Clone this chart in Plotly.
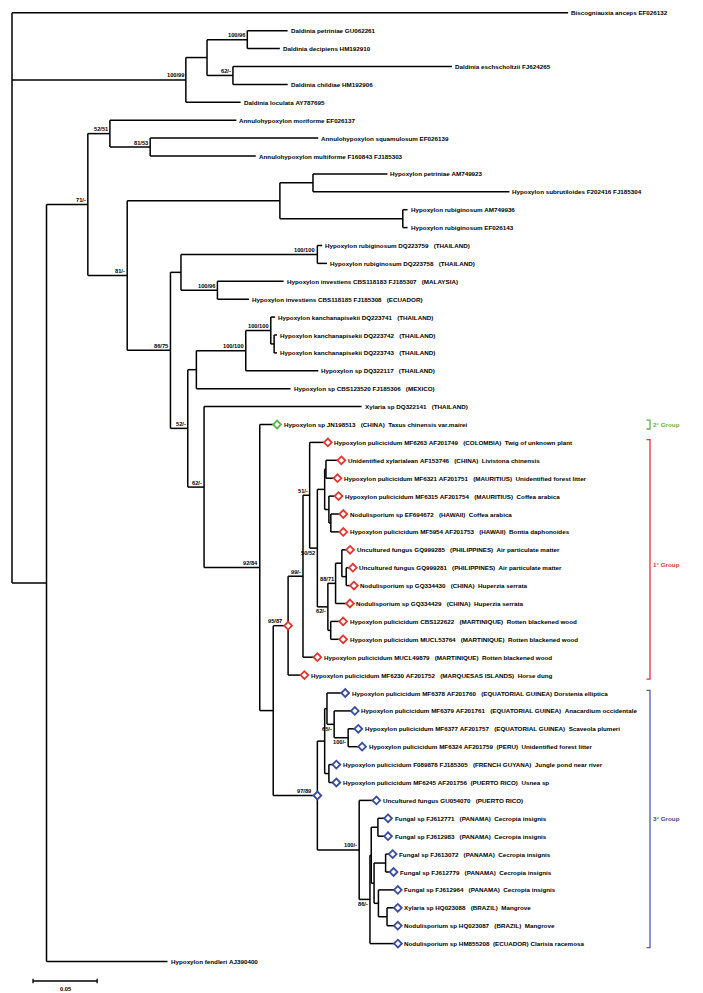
import plotly.graph_objects as go

# ---------------- data ----------------
leaf_labels = [
    "Biscogniauxia anceps EF026132",
    "Daldinia petriniae GU062261",
    "Daldinia decipiens HM192910",
    "Daldinia eschscholtzii FJ624265",
    "Daldinia childiae HM192906",
    "Daldinia loculata AY787695",
    "Annulohypoxylon moriforme EF026137",
    "Annulohypoxylon squamulosum EF026139",
    "Annulohypoxylon multiforme F160843 FJ185303",
    "Hypoxylon petriniae AM749923",
    "Hypoxylon subrutiloides F202416 FJ185304",
    "Hypoxylon rubiginosum AM749936",
    "Hypoxylon rubiginosum EF026143",
    "Hypoxylon rubiginosum DQ223759   (THAILAND)",
    "Hypoxylon rubiginosum DQ223758   (THAILAND)",
    "Hypoxylon investiens CBS118183 FJ185307   (MALAYSIA)",
    "Hypoxylon investiens CBS118185 FJ185308   (ECUADOR)",
    "Hypoxylon kanchanapisekii DQ223741   (THAILAND)",
    "Hypoxylon kanchanapisekii DQ223742   (THAILAND)",
    "Hypoxylon kanchanapisekii DQ223743   (THAILAND)",
    "Hypoxylon sp DQ322117   (THAILAND)",
    "Hypoxylon sp CBS123520 FJ185306   (MEXICO)",
    "Xylaria sp DQ322141   (THAILAND)",
    "Hypoxylon sp JN198513   (CHINA)  Taxus chinensis var.mairei",
    "Hypoxylon pulicicidum MF6263 AF201749   (COLOMBIA)  Twig of unknown plant",
    "Unidentified xylarialean AF153746   (CHINA)  Livistona chinensis",
    "Hypoxylon pulicicidum MF6321 AF201751   (MAURITIUS)  Unidentified forest litter",
    "Hypoxylon pulicicidum MF6315 AF201754   (MAURITIUS)  Coffea arabica",
    "Nodulisporium sp EF694672   (HAWAII)  Coffea arabica",
    "Hypoxylon pulicicidum MF5954 AF201753   (HAWAII)  Bontia daphonoides",
    "Uncultured fungus GQ999285   (PHILIPPINES)  Air particulate matter",
    "Uncultured fungus GQ999281   (PHILIPPINES)  Air particulate matter",
    "Nodulisporium sp GQ334430   (CHINA)  Huperzia serrata",
    "Nodulisporium sp GQ334429   (CHINA)  Huperzia serrata",
    "Hypoxylon pulicicidum CBS122622   (MARTINIQUE)  Rotten blackened wood",
    "Hypoxylon pulicicidum MUCL53764   (MARTINIQUE)  Rotten blackened wood",
    "Hypoxylon pulicicidum MUCL49879   (MARTINIQUE)  Rotten blackened wood",
    "Hypoxylon pulicicidum MF6230 AF201752   (MARQUESAS ISLANDS)  Horse dung",
    "Hypoxylon pulicicidum MF6378 AF201760   (EQUATORIAL GUINEA) Dorstenia elliptica",
    "Hypoxylon pulicicidum MF6379 AF201761   (EQUATORIAL GUINEA)  Anacardium occidentale",
    "Hypoxylon pulicicidum MF6377 AF201757   (EQUATORIAL GUINEA)  Scaveola plumeri",
    "Hypoxylon pulicicidum MF6324 AF201759  (PERU)  Unidentified forest litter",
    "Hypoxylon pulicicidum F089878 FJ185305   (FRENCH GUYANA)  Jungle pond near river",
    "Hypoxylon pulicicidum MF6245 AF201756  (PUERTO RICO)  Usnea sp",
    "Uncultured fungus GU054070   (PUERTO RICO)",
    "Fungal sp FJ612771   (PANAMA)  Cecropia insignis",
    "Fungal sp FJ612983   (PANAMA)  Cecropia insignis",
    "Fungal sp FJ613072   (PANAMA)  Cecropia insignis",
    "Fungal sp FJ612779   (PANAMA)  Cecropia insignis",
    "Fungal sp FJ612964   (PANAMA)  Cecropia insignis",
    "Xylaria sp HQ023088   (BRAZIL)  Mangrove",
    "Nodulisporium sp HQ023087   (BRAZIL)  Mangrove",
    "Nodulisporium sp HM855208  (ECUADOR) Clarisia racemosa",
    "Hypoxylon fendleri AJ390400",
]

leaf_parent = [
    "root", "E", "E", "F", "F", "C", "G", "I", "I", "L", "L", "M", "M",
    "P", "P", "Q", "Q", "V", "W", "W", "U", "S", "T", "X",
    "AC", "AD", "AD", "AO", "AN", "AN", "AG", "AH", "AH", "AI", "AK", "AK", "AB", "Z",
    "AV", "AS", "AR", "AR", "AU", "AU", "AQ", "AY", "AY", "AZ", "AZ", "BB", "BA", "BA", "AW",
    "A",
]

leaf_length = [
    0.4334, 0.0314, 0.0254, 0.1707, 0.0427, 0.0427, 0.0986, 0.1310, 0.0823,
    0.0580, 0.1531, 0.0037, 0.0037, 0.0037, 0.0075, 0.0516, 0.0247,
    0.0034, 0.0022, 0.0022, 0.0565, 0.0734, 0.1228, 0.0135,
    0.0142, 0.0120, 0.0090, 0.0075, 0.0097, 0.0097, 0.0064, 0.0052, 0.0060,
    0.0112, 0.0097, 0.0097, 0.0112, 0.0127,
    0.0142, 0.0161, 0.0079, 0.0109, 0.0058, 0.0058, 0.0134, 0.0079, 0.0079,
    0.0055, 0.0062, 0.0151, 0.0084, 0.0084, 0.0218,
    0.0943,
]

leaf_group = [None] * 23 + ["g2"] + ["g1"] * 14 + ["g3"] * 15 + [None]

node_parent = {
    "C": "root", "D": "C", "E": "D", "F": "D", "A": "root", "B": "A", "G": "B",
    "I": "G", "H": "B", "J": "H", "L": "J", "M": "J", "K": "H", "N": "K",
    "P": "N", "Q": "N", "O": "K", "S": "O", "U": "S", "V": "U", "W": "V",
    "T": "O", "X": "T", "Y": "X", "Z": "Y", "AB": "Z", "AC": "AB", "AL": "AC",
    "AM": "AL", "AD": "AM", "AO": "AM", "AN": "AO", "AJ": "AL", "AI": "AJ",
    "AG": "AI", "AH": "AG", "AK": "AJ", "AA": "Y", "AP": "AA", "AV": "AP",
    "AS": "AV", "AR": "AS", "AU": "AP", "AQ": "AA", "AW": "AQ", "AX": "AW",
    "AY": "AX", "BC": "AX", "AZ": "BC", "BB": "BC", "BA": "BB",
}

node_length = {
    "C": 0.1355, "D": 0.0165, "E": 0.0314, "F": 0.0202, "A": 0.0269, "B": 0.0322,
    "G": 0.0172, "I": 0.0314, "H": 0.0307, "J": 0.1190, "L": 0.0258, "M": 0.0958,
    "K": 0.0337, "N": 0.0082, "P": 0.1063, "Q": 0.0284, "O": 0.0135, "S": 0.0067,
    "U": 0.0385, "V": 0.0195, "W": 0.0026, "T": 0.0127, "X": 0.0434, "Y": 0.0105,
    "Z": 0.0116, "AB": 0.0116, "AC": 0.0052, "AL": 0.0060, "AM": 0.0057,
    "AD": 0.0010, "AO": 0.0033, "AN": 0.0015, "AJ": 0.0082, "AI": 0.0060,
    "AG": 0.0049, "AH": 0.0034, "AK": 0.0022, "AA": 0.0344, "AP": 0.0057,
    "AV": 0.0018, "AS": 0.0056, "AR": 0.0109, "AU": 0.0033, "AQ": 0.0326,
    "AW": 0.0084, "AX": 0.0010, "AY": 0.0052, "BC": 0.0022, "AZ": 0.0090,
    "BB": 0.0034, "BA": 0.0067,
}

node_support = {
    "C": "100/99", "E": "100/96", "F": "62/-", "G": "52/51", "I": "81/53",
    "B": "71/-", "H": "81/-", "P": "100/100", "Q": "100/96", "K": "86/75",
    "V": "100/100", "U": "100/100", "O": "52/-", "T": "62/-", "X": "92/84",
    "Z": "95/87", "AB": "99/-", "AC": "51/-", "AL": "50/52", "AI": "88/71",
    "AJ": "62/-", "AS": "65/-", "AR": "100/-", "AA": "97/89", "AQ": "100/-",
    "AW": "86/-",
}
support_below = ["AL", "AJ", "AS", "AR", "AW"]
node_marker_group = {"Z": "g1", "AA": "g3"}

group_names = {"g2": "2° Group", "g1": "1° Group", "g3": "3° Group"}
scale_bar_length = 0.05
scale_bar_label = "0.05"

# ---------------- layout constants ----------------
W, H = 703, 993
PX_PER_UNIT = 1283.0
ROOT_PX = 4.0
ROW0_PX = 4.8
ROW_PX = 17.9
FONT = "Liberation Sans, Arial, sans-serif"
LEAF_FS = 6.25
SUP_FS = 5.7
group_color = {"g1": "#E3372E", "g2": "#5BB548", "g3": "#3A4C9E"}
bracket_color = {"g1": "#E3372E", "g2": "#5BB548", "g3": "#4D5DA8"}
BRACKET_X = (642 - ROOT_PX) / PX_PER_UNIT
TICK = 3.5 / PX_PER_UNIT
SB_X0 = (25 - ROOT_PX) / PX_PER_UNIT
SB_ROW = (973 - ROW0_PX) / ROW_PX
SB_LABEL_ROW = (981 - ROW0_PX) / ROW_PX

# ---------------- tree geometry ----------------
leaf_ids = ["leaf%d" % i for i in range(len(leaf_labels))]
parent = {"root": None}
length = {"root": 0.0}
for n in node_parent:
    parent[n] = node_parent[n]
    length[n] = node_length[n]
for i, lid in enumerate(leaf_ids):
    parent[lid] = leaf_parent[i]
    length[lid] = leaf_length[i]

children = {}
for n, p in parent.items():
    if p is not None:
        children.setdefault(p, []).append(n)

xpos = {}


def getx(n):
    if n not in xpos:
        p = parent[n]
        xpos[n] = 0.0 if p is None else getx(p) + length[n]
    return xpos[n]


ypos = {lid: float(i) for i, lid in enumerate(leaf_ids)}


def gety(n):
    if n not in ypos:
        ys = [gety(c) for c in children[n]]
        ypos[n] = (min(ys) + max(ys)) / 2.0
    return ypos[n]


for n in parent:
    getx(n)
    gety(n)

lx, ly = [], []
for n, p in parent.items():
    if p is None:
        continue
    lx += [xpos[p], xpos[n], None]
    ly += [ypos[n], ypos[n], None]
for n, ch in children.items():
    ys = [ypos[c] for c in ch]
    lx += [xpos[n], xpos[n], None]
    ly += [min(ys), max(ys), None]

fig = go.Figure()
fig.add_trace(go.Scatter(x=lx, y=ly, mode="lines",
                         line=dict(color="black", width=1.5),
                         hoverinfo="skip", showlegend=False))

# diamonds on tips and nodes
for g in ["g1", "g2", "g3"]:
    mx = [xpos[leaf_ids[i]] for i in range(len(leaf_ids)) if leaf_group[i] == g]
    my = [ypos[leaf_ids[i]] for i in range(len(leaf_ids)) if leaf_group[i] == g]
    for n, gg in node_marker_group.items():
        if gg == g:
            mx.append(xpos[n])
            my.append(ypos[n])
    fig.add_trace(go.Scatter(x=mx, y=my, mode="markers",
                             marker=dict(symbol="diamond", size=6, color="white",
                                         line=dict(color=group_color[g], width=1.8)),
                             hoverinfo="skip", showlegend=False))

annotations = []
for i, lid in enumerate(leaf_ids):
    annotations.append(dict(
        x=xpos[lid], y=ypos[lid], text=leaf_labels[i].replace(" ", "\u00a0"),
        xanchor="left", yanchor="middle", showarrow=False,
        xshift=5.5 if leaf_group[i] else 2.0, borderpad=0,
        font=dict(family=FONT, size=LEAF_FS, color="black", weight="bold")))

for n, s in node_support.items():
    below = n in support_below
    annotations.append(dict(
        x=xpos[n], y=ypos[n], text=s, showarrow=False,
        xanchor="right", yanchor="top" if below else "bottom",
        xshift=-5 if n in node_marker_group else -1,
        yshift=-0.5 if below else 0.5, borderpad=0,
        font=dict(family=FONT, size=SUP_FS, color="black", weight="bold")))

# group brackets
for g in ["g2", "g1", "g3"]:
    rows = [ypos[leaf_ids[i]] for i in range(len(leaf_ids)) if leaf_group[i] == g]
    if g == "g2":
        top, bot = min(rows) - 0.25, max(rows) + 0.25
    else:
        top, bot = min(rows) - 0.15, max(rows) + 0.22
    fig.add_trace(go.Scatter(
        x=[BRACKET_X - TICK, BRACKET_X, BRACKET_X, BRACKET_X - TICK],
        y=[top, top, bot, bot], mode="lines",
        line=dict(color=bracket_color[g], width=1.3),
        hoverinfo="skip", showlegend=False))
    annotations.append(dict(
        x=BRACKET_X, y=(top + bot) / 2.0 + (0.3 if g == "g1" else 0), text=group_names[g],
        xanchor="left", yanchor="middle", showarrow=False, xshift=2, borderpad=0,
        font=dict(family=FONT, size=LEAF_FS, color=group_color[g], weight="bold")))

# scale bar
sbx = [SB_X0, SB_X0 + scale_bar_length, None, SB_X0, SB_X0, None,
       SB_X0 + scale_bar_length, SB_X0 + scale_bar_length]
sby = [SB_ROW, SB_ROW, None, SB_ROW - 0.13, SB_ROW + 0.13, None,
       SB_ROW - 0.13, SB_ROW + 0.13]
fig.add_trace(go.Scatter(x=sbx, y=sby, mode="lines",
                         line=dict(color="black", width=1.3),
                         hoverinfo="skip", showlegend=False))
annotations.append(dict(
    x=SB_X0 + scale_bar_length / 2, y=SB_LABEL_ROW, text=scale_bar_label,
    xanchor="center", yanchor="middle", showarrow=False, borderpad=0,
    font=dict(family=FONT, size=SUP_FS, color="black", weight="bold")))

fig.update_layout(
    width=W, height=H,
    margin=dict(l=0, r=0, t=0, b=0),
    paper_bgcolor="white", plot_bgcolor="white",
    xaxis=dict(range=[(0 - ROOT_PX) / PX_PER_UNIT, (W - ROOT_PX) / PX_PER_UNIT],
               visible=False, fixedrange=True),
    yaxis=dict(range=[(H - ROW0_PX) / ROW_PX, (0 - ROW0_PX) / ROW_PX],
               visible=False, fixedrange=True),
    annotations=annotations,
    showlegend=False,
)

fig.write_html("out.html", config={"displayModeBar": False})
